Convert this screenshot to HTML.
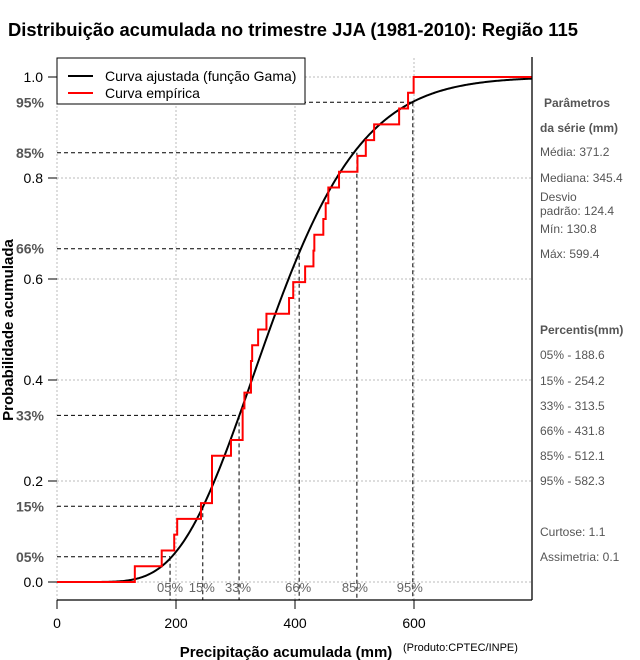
<!DOCTYPE html>
<html><head><meta charset="utf-8"><style>
html,body{margin:0;padding:0;background:#fff;}
svg{display:block;font-family:"Liberation Sans",sans-serif;}
</style></head><body>
<svg id="chart" width="640" height="660" viewBox="0 0 640 660" xmlns="http://www.w3.org/2000/svg">
<text x="8" y="36" font-size="18" font-weight="bold" textLength="570" lengthAdjust="spacingAndGlyphs">Distribuição acumulada no trimestre JJA (1981-2010): Região 115</text>
<g id="grid"></g>
<g id="pct"></g>
<g id="series"></g>
<g id="axes"></g>
<text x="0" y="0" transform="translate(13,330) rotate(-90)" text-anchor="middle" font-size="15" font-weight="bold">Probabilidade acumulada</text>
<text x="286" y="657" text-anchor="middle" font-size="15" font-weight="bold">Precipitação acumulada (mm)</text>
<text x="403" y="651" font-size="11">(Produto:CPTEC/INPE)</text>
<g>
<rect x="57" y="58" width="248" height="46" fill="#fff" stroke="#000" stroke-width="1"/>
<line x1="68" y1="76" x2="93" y2="76" stroke="#000" stroke-width="2"/>
<text x="105" y="81" font-size="14">Curva ajustada (função Gama)</text>
<line x1="68" y1="93" x2="93" y2="93" stroke="#f00" stroke-width="2"/>
<text x="105" y="98" font-size="14">Curva empírica</text>
</g>
<g font-size="12" fill="#555">
<text x="544" y="107" font-weight="bold">Parâmetros</text>
<text x="540" y="132" font-weight="bold">da série (mm)</text>
<text x="540" y="156">Média: 371.2</text>
<text x="540" y="182">Mediana: 345.4</text>
<text x="540" y="201">Desvio</text>
<text x="540" y="215">padrão: 124.4</text>
<text x="540" y="233">Mín: 130.8</text>
<text x="540" y="258">Máx: 599.4</text>
<text x="540" y="334" font-weight="bold">Percentis(mm)</text>
<text x="540" y="359">05% - 188.6</text>
<text x="540" y="385">15% - 254.2</text>
<text x="540" y="410">33% - 313.5</text>
<text x="540" y="435">66% - 431.8</text>
<text x="540" y="460">85% - 512.1</text>
<text x="540" y="485">95% - 582.3</text>
<text x="540" y="536">Curtose: 1.1</text>
<text x="540" y="561">Assimetria: 0.1</text>
</g>
</svg>
<script>
const xTicks = [0, 200, 400, 600];
const yTicks = [0.0, 0.2, 0.4, 0.6, 0.8, 1.0];
const yTickLabels = ["0.0", "0.2", "0.4", "0.6", "0.8", "1.0"];
const pctProbs = [0.05, 0.15, 0.33, 0.66, 0.85, 0.95];
const pctLabels = ["05%", "15%", "33%", "66%", "85%", "95%"];
const pctLineValues = [190, 245, 306, 407, 504, 598];
const empValues = [130.8,176,197,202,242,260.5,260.5,260.5,292.4,312,312,315,326,326,328,338,352,390,397,417,431,432.5,447.6,451.6,456,474,505,519,533,575,590,599.4];
const gammaMean = 371.2;
const gammaSd = 124.4;

const NS = "http://www.w3.org/2000/svg";
const L = 57, R = 532, B = 600;
const X = v => 57 + v * 0.595;
const Y = p => 582 - p * 505;
function mk(tag, attrs, parent) {
  const e = document.createElementNS(NS, tag);
  for (const k in attrs) e.setAttribute(k, attrs[k]);
  parent.appendChild(e);
  return e;
}
const grid = document.getElementById('grid');
const axes = document.getElementById('axes');
const pct = document.getElementById('pct');
const series = document.getElementById('series');

xTicks.forEach(v => {
  const g = mk('line', {x1: X(v), x2: X(v), y1: 58, y2: B, stroke: '#bbb', 'stroke-dasharray': '2,2'}, grid);
  
  
  const t = mk('line', {x1: X(v), x2: X(v), y1: B, y2: B + 9, stroke: '#000'}, axes);
  
  
  const lb = mk('text', {x: X(v), y: 628, 'text-anchor': 'middle', 'font-size': 14}, axes);
  lb.textContent = String(v);
  
  
});
yTicks.forEach((p, i) => {
  const g = mk('line', {x1: L, x2: R, y1: Y(p), y2: Y(p), stroke: '#bbb', 'stroke-dasharray': '2,2'}, grid);
  
  
  const t = mk('line', {x1: 48, x2: L, y1: Y(p), y2: Y(p), stroke: '#000'}, axes);
  
  
  const lb = mk('text', {x: 43, y: Y(p) + 5, 'text-anchor': 'end', 'font-size': 14}, axes);
  lb.textContent = yTickLabels[i];
  
  
});
const fb = mk('line', {x1: L, x2: R, y1: B, y2: B, stroke: '#000', 'stroke-width': 1.3}, axes);


const fr = mk('line', {x1: R, x2: R, y1: 57, y2: B, stroke: '#000', 'stroke-width': 1.3}, axes);



const labelOffsets = [0, -1, -1, -1, -2, -3];
pctProbs.forEach((p, i) => {
  const xv = X(pctLineValues[i]);
  const h = mk('line', {x1: L, x2: xv, y1: Y(p), y2: Y(p), stroke: '#000', 'stroke-dasharray': '4,3'}, pct);
  
  
  const v = mk('line', {x1: xv, x2: xv, y1: Y(p), y2: B, stroke: '#000', 'stroke-dasharray': '4,3'}, pct);
  
  
  const lb = mk('text', {x: 44, y: Y(p) + 5, 'text-anchor': 'end', 'font-size': 14, fill: '#555', 'font-weight': 'bold'}, pct);
  lb.textContent = pctLabels[i];
  
  
  const bl = mk('text', {x: xv + labelOffsets[i], y: 592, 'text-anchor': 'middle', 'font-size': 13, fill: '#666'}, pct);
  bl.textContent = pctLabels[i];
  
  
});

function lgamma(z) {
  const c = [76.18009172947146, -86.50532032941677, 24.01409824083091, -1.231739572450155, 0.1208650973866179e-2, -0.5395239384953e-5];
  let x = z, y = z, tmp = x + 5.5;
  tmp -= (x + 0.5) * Math.log(tmp);
  let ser = 1.000000000190015;
  for (let j = 0; j < 6; j++) ser += c[j] / ++y;
  return -tmp + Math.log(2.5066282746310005 * ser / x);
}
function gammaP(a, x) {
  if (x <= 0) return 0;
  if (x < a + 1) {
    let sum = 1 / a, del = sum, ap = a;
    for (let n = 0; n < 500; n++) { ap++; del *= x / ap; sum += del; if (Math.abs(del) < Math.abs(sum) * 1e-12) break; }
    return sum * Math.exp(-x + a * Math.log(x) - lgamma(a));
  }
  let b = x + 1 - a, c = 1e300, d = 1 / b, h = d;
  for (let i = 1; i < 500; i++) {
    const an = -i * (i - a); b += 2;
    d = an * d + b; if (Math.abs(d) < 1e-300) d = 1e-300;
    c = b + an / c; if (Math.abs(c) < 1e-300) c = 1e-300;
    d = 1 / d; const del = d * c; h *= del; if (Math.abs(del - 1) < 1e-12) break;
  }
  return 1 - Math.exp(-x + a * Math.log(x) - lgamma(a)) * h;
}
const shape = (gammaMean / gammaSd) ** 2;
const scale = gammaSd * gammaSd / gammaMean;
let gd = '';
for (let v = 0; v <= 798; v += 2) {
  const p = gammaP(shape, v / scale);
  gd += (v === 0 ? 'M' : 'L') + X(v).toFixed(2) + ',' + Y(p).toFixed(2);
}
const gp = mk('path', {d: gd, fill: 'none', stroke: '#000', 'stroke-width': 2}, series);



const sorted = empValues.slice().sort((a, b) => a - b);
const N = sorted.length;
let ed = 'M' + X(0) + ',' + Y(0);
let cnt = 0;
sorted.forEach(v => {
  cnt++;
  ed += 'L' + X(v).toFixed(2) + ',' + Y((cnt - 1) / N).toFixed(2) + 'L' + X(v).toFixed(2) + ',' + Y(cnt / N).toFixed(2);
});
ed += 'L' + X(798) + ',' + Y(1);
const ep = mk('path', {d: ed, fill: 'none', stroke: '#f00', 'stroke-width': 2}, series);


</script>
</body></html>
